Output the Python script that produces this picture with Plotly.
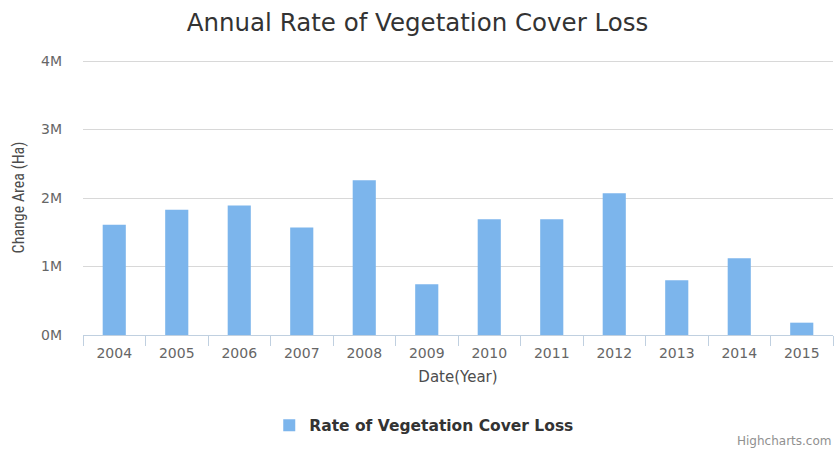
import plotly.graph_objects as go

years = ["2004", "2005", "2006", "2007", "2008", "2009",
         "2010", "2011", "2012", "2013", "2014", "2015"]
loss_ha = [1.61e6, 1.83e6, 1.89e6, 1.57e6, 2.26e6, 0.74e6,
           1.69e6, 1.69e6, 2.07e6, 0.80e6, 1.12e6, 0.18e6]
y_tick_vals = [0, 1e6, 2e6, 3e6, 4e6]
y_tick_text = ["0M", "1M", "2M", "3M", "4M"]

FONT = "DejaVu Sans"

fig = go.Figure()
fig.add_trace(go.Bar(
    x=years, y=loss_ha,
    name="Rate of Vegetation Cover Loss",
    marker=dict(color="#7cb5ec", line=dict(width=0)),
))

fig.update_layout(
    width=835, height=450,
    margin=dict(l=83, r=2, t=60, b=115),
    paper_bgcolor="white", plot_bgcolor="white",
    bargap=0.63,
    title=dict(text="Annual Rate of Vegetation Cover Loss",
               x=0.5, xanchor="center", y=0.951, yanchor="middle",
               font=dict(family=FONT, size=24.5, color="#333333")),
    font=dict(family=FONT, color="#666666"),
    showlegend=True,
    legend=dict(orientation="h", x=0.455, xanchor="center",
                y=-0.33, yanchor="middle",
                font=dict(family=FONT, size=15.5, color="#333333",
                          weight="bold")),
    xaxis=dict(
        type="category", tickson="boundaries",
        ticks="outside", ticklen=10, tickcolor="#C0D0E0",
        showline=True, linecolor="#C0D0E0", linewidth=1,
        showgrid=False, ticklabelstandoff=5,
        tickfont=dict(family=FONT, size=14, color="#666666"),
        title=dict(text="Date(Year)", standoff=11,
                   font=dict(family=FONT, size=15, color="#4d4d4d")),
    ),
    yaxis=dict(
        range=[0, 4.015e6],
        tickvals=y_tick_vals, ticktext=y_tick_text,
        showgrid=True, gridcolor="#D8D8D8", gridwidth=1,
        zeroline=False, showline=False,
        ticks="", ticklabelstandoff=20,
        tickfont=dict(family=FONT, size=14, color="#666666"),
        title=dict(text="Change Area (Ha)", standoff=12,
                   font=dict(family="Liberation Sans Narrow, Roboto Condensed, Roboto",
                             size=16, color="#4d4d4d")),
    ),
)

fig.add_annotation(
    text="Highcharts.com", xref="paper", yref="paper",
    x=1.0, xanchor="right", y=-0.387, yanchor="middle",
    showarrow=False,
    font=dict(family=FONT, size=12, color="#909090"),
)

fig.write_html("out.html")
